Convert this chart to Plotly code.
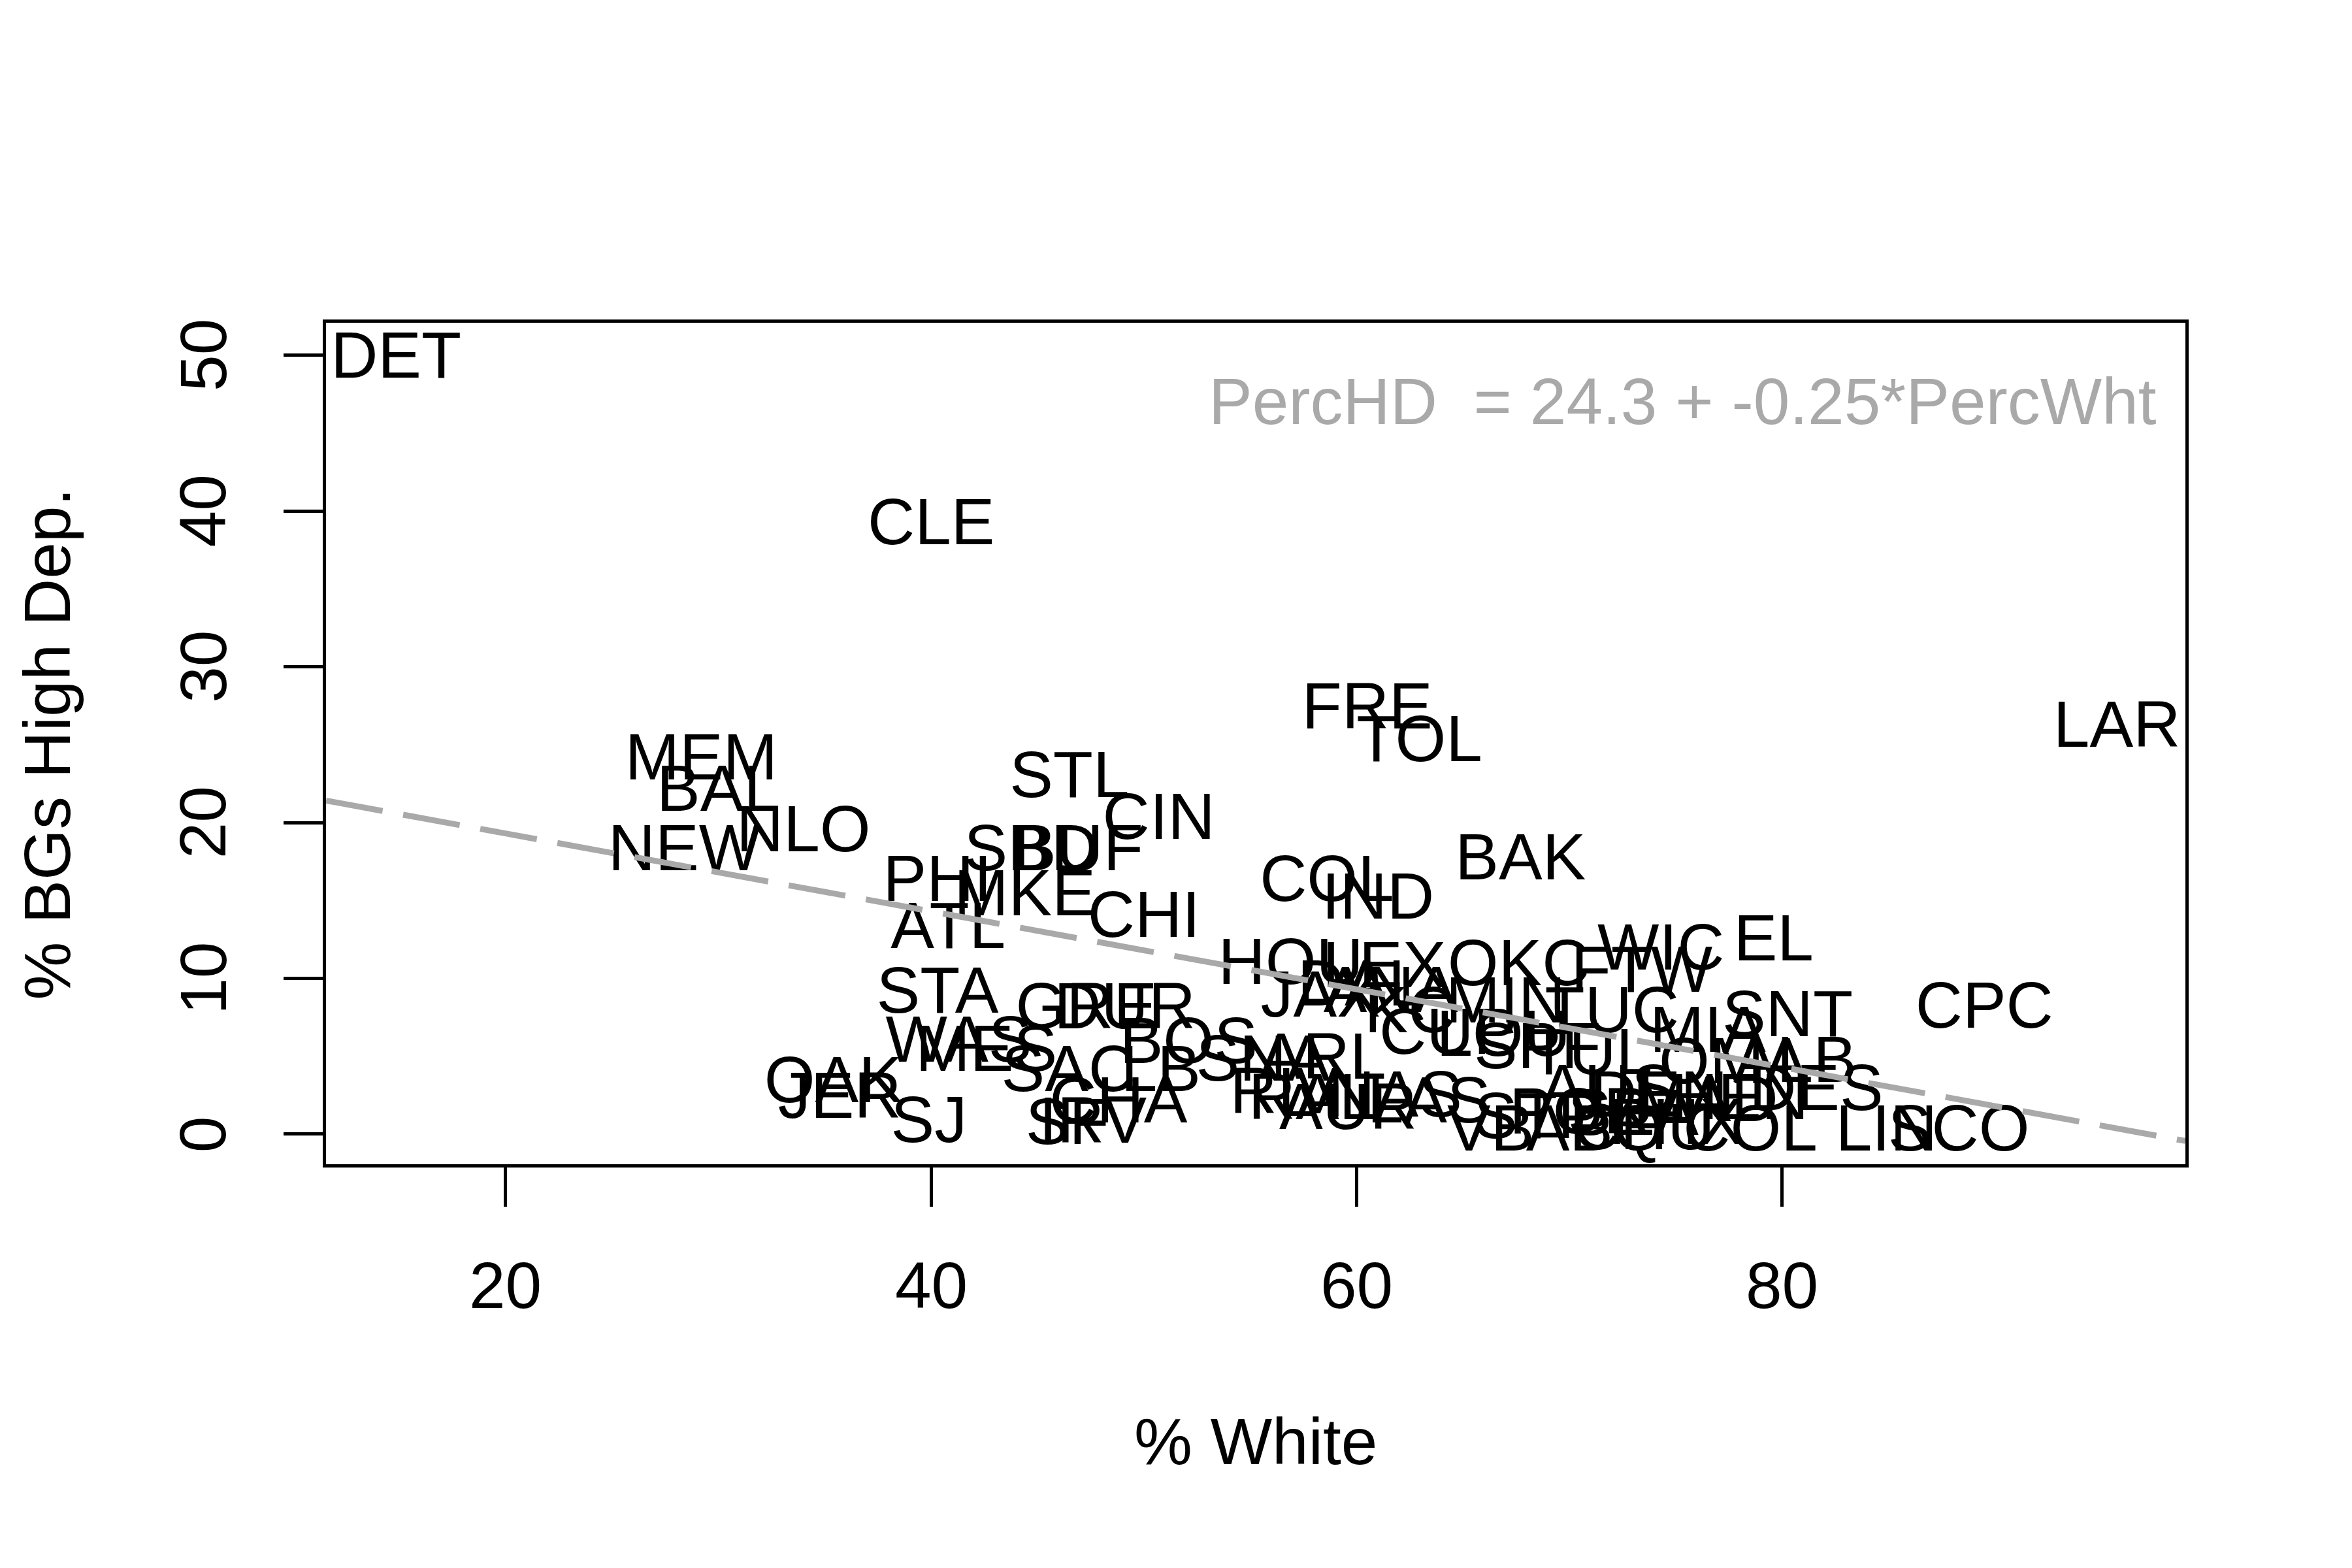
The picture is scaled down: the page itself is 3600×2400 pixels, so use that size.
import plotly.graph_objects as go

# ---- data ----
codes = ["DET", "CLE", "FRE", "TOL", "LAR", "MEM", "BAL", "NLO", "NEW", "STL",
         "CIN", "SBD", "BUF", "PHI", "MKE", "ATL", "CHI", "COL", "IND", "BAK",
         "STA", "WAS", "MES", "GRE", "DUR", "BOS", "SAC", "LB", "OAK", "JER",
         "SJ", "SF", "IRV", "CHA", "HOU", "LEX", "OKC", "JAX", "DAL", "ANA",
         "MIN", "CUP", "LOU", "SPF", "TUL", "SNA", "ARL", "RIV", "RAL", "AUR",
         "NAS", "LAS", "VB", "ABQ", "CHU", "PHX", "COL", "LIN", "SCO", "DES",
         "ALB", "OMA", "SNT", "MIA", "TUC", "FTW", "WIC", "EL", "CPC", "AUS",
         "DEN", "MAD", "HEN", "POR", "SEA", "STP", "KC"]
pct_white = [14.85, 40.0, 60.5, 62.95, 95.73, 29.2, 30.0, 34.0, 28.4, 46.5,
             50.7, 44.7, 46.9, 40.3, 44.4, 40.8, 50.0, 58.6, 61.0, 67.7,
             40.3, 41.3, 42.6, 47.3, 49.1, 52.1, 46.45, 50.8, 35.4, 35.7,
             39.9, 46.4, 47.6, 48.8, 56.9, 61.3, 67.6, 58.3, 60.2, 61.6,
             67.0, 64.3, 66.9, 68.5, 71.0, 55.6, 58.4, 56.6, 57.9, 59.6,
             61.8, 63.4, 66.3, 71.2, 73.5, 75.0, 78.5, 84.9, 88.3, 81.6,
             80.6, 77.7, 80.25, 76.5, 72.0, 73.4, 74.3, 79.6, 89.5, 71.8,
             74.2, 76.4, 78.0, 70.5, 73.0, 68.5, 62.5]
pct_hd = [49.6, 38.9, 27.1, 25.0, 25.9, 23.8, 21.8, 19.2, 18.0, 22.7,
          20.0, 18.0, 18.0, 16.0, 15.1, 13.0, 13.7, 16.0, 14.9, 17.4,
          8.85, 5.7, 5.1, 7.85, 7.85, 5.6, 3.8, 3.8, 3.1, 2.1,
          0.56, 0.4, 0.5, 1.8, 10.7, 10.5, 10.6, 8.6, 9.3, 8.9,
          8.2, 6.2, 6.1, 5.3, 4.9, 4.5, 4.6, 2.4, 2.0, 1.4,
          2.2, 1.8, 0.0, 0.0, 0.1, 0.4, 0.0, 0.0, 0.0, 2.6,
          4.4, 4.3, 7.35, 6.35, 7.6, 10.2, 11.6, 12.2, 7.9, 2.6,
          2.2, 1.9, 2.0, 1.1, 1.0, 0.8, 7.6]

x_ticks = [20, 40, 60, 80]
y_ticks = [0, 10, 20, 30, 40, 50]
x_range = [11.56, 98.95]
y_range = [-1.93, 52.08]
fit_intercept = 24.3
fit_slope = -0.25

FONT = "Liberation Sans, Arial, Helvetica, sans-serif"
FS = 100

fig = go.Figure()

fig.add_trace(go.Scatter(
    x=pct_white, y=pct_hd, mode="text", text=codes,
    textposition="middle center",
    textfont=dict(family=FONT, size=FS, color="black"),
    hoverinfo="skip", showlegend=False,
))

fit_x = list(x_range)
fit_y = [fit_intercept + fit_slope * v for v in fit_x]
fig.add_trace(go.Scatter(
    x=fit_x, y=fit_y, mode="lines",
    line=dict(color="#A9A9A9", width=9, dash="88px,32px"),
    hoverinfo="skip", showlegend=False,
))

annotations = []
for t in x_ticks:
    annotations.append(dict(x=t, y=-0.1433, xref="x", yref="paper", text=str(t),
                            showarrow=False, xanchor="center", yanchor="middle",
                            font=dict(family=FONT, size=FS, color="black")))
for t in y_ticks:
    annotations.append(dict(x=-0.0663, y=t, xref="paper", yref="y", text=str(t),
                            showarrow=False, xanchor="center", yanchor="middle",
                            textangle=-90,
                            font=dict(family=FONT, size=FS, color="black")))
annotations.append(dict(x=0.5, y=-0.3292, xref="paper", yref="paper", text="% White",
                        showarrow=False, xanchor="center", yanchor="middle",
                        font=dict(family=FONT, size=FS, color="black")))
annotations.append(dict(x=-0.1499, y=0.5, xref="paper", yref="paper",
                        text="% BGs High Dep.", textangle=-90,
                        showarrow=False, xanchor="center", yanchor="middle",
                        font=dict(family=FONT, size=FS, color="black")))
annotations.append(dict(x=0.9852, y=0.9068, xref="paper", yref="paper",
                        text=f"PercHD\u00a0 = {fit_intercept} + {fit_slope}*PercWht",
                        showarrow=False, xanchor="right", yanchor="middle",
                        font=dict(family=FONT, size=FS, color="#A9A9A9")))

axis_common = dict(showgrid=False, zeroline=False, showline=True, linewidth=5,
                   linecolor="black", mirror=True, ticks="outside", ticklen=60,
                   tickwidth=4.5, tickcolor="black", showticklabels=False)

fig.update_layout(
    width=3600, height=2400,
    margin=dict(l=491, r=263, t=486, b=626, pad=0),
    paper_bgcolor="white", plot_bgcolor="white",
    showlegend=False,
    xaxis=dict(range=x_range, tickvals=x_ticks, **axis_common),
    yaxis=dict(range=y_range, tickvals=y_ticks, **axis_common),
    annotations=annotations,
)

fig.write_html("out.html")
